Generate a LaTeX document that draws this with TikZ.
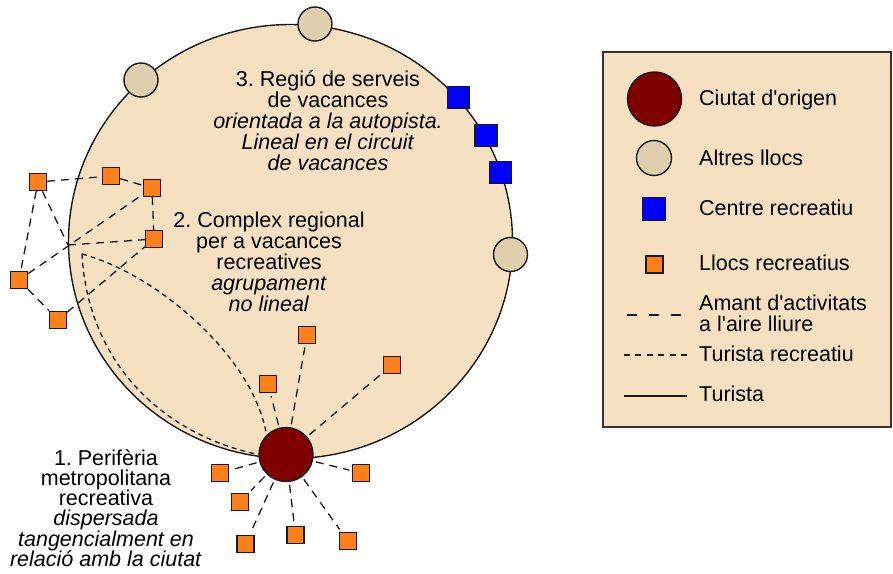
\documentclass[tikz,border=0pt]{standalone}
\usepackage{fontspec}
\setmainfont{Liberation Sans}
\frenchspacing
\definecolor{wheatfill}{HTML}{F5E1C2}
\definecolor{othertan}{HTML}{E0CFAF}
\definecolor{cityred}{HTML}{7F0000}
\definecolor{centreblue}{HTML}{0000FF}
\definecolor{llocorange}{HTML}{FF7F1A}
\definecolor{ink}{HTML}{1A1A1A}
\definecolor{frame}{HTML}{333333}
\tikzset{
  outline/.style={draw=ink, line width=1.4pt},
  city/.style={outline, circle, fill=cityred, minimum size=54pt, inner sep=0pt},
  other/.style={outline, circle, fill=othertan, minimum size=34pt, inner sep=0pt},
  centre/.style={outline, rectangle, fill=centreblue, minimum size=22pt, inner sep=0pt},
  lloc/.style={outline, rectangle, fill=llocorange, minimum size=17pt, inner sep=0pt},
  amant/.style={draw=ink, line width=1.3pt, dash pattern=on 8pt off 6pt},
  recre/.style={draw=ink, line width=1.3pt, dash pattern=on 5pt off 4pt},
  spoke/.style={amant, shorten <=3pt, shorten >=3pt},
  zonelabel/.style={font=\fontsize{21.5}{21}\selectfont, align=center, inner sep=0pt},
  legtext/.style={font=\fontsize{21.5}{21}\selectfont, anchor=base west, inner sep=0pt}
}
\begin{document}
\begin{tikzpicture}[x=1pt,y=-1pt]
\useasboundingbox (0,0) rectangle (893,573);

% recreational region round the city
\draw[outline, fill=wheatfill] (290.5,241.5) ellipse [x radius=222pt, y radius=217pt];

% other places on the rim
\node[other] (o1) at (315,24) {};
\node[other] (o2) at (141,80) {};
\node[other] (o3) at (510.5,254.5) {};

% recreation centres along the motorway
\node[centre] (c1) at (458.5,97.5) {};
\node[centre] (c2) at (486,135.5) {};
\node[centre] (c3) at (500.5,172.5) {};

% regional complex (left cluster)
\node[lloc] (r1) at (38,182) {};
\node[lloc] (r2) at (111,176) {};
\node[lloc] (r3) at (152,188) {};
\node[lloc] (r4) at (154,239) {};
\node[lloc] (r5) at (19,280) {};
\node[lloc] (r6) at (58,320) {};
\coordinate (hub) at (68,245);
\coordinate (tour) at (82,254);

% city of origin and its periphery
\node[city] (city) at (286,454.5) {};
\node[lloc] (p1) at (307,335) {};
\node[lloc] (p2) at (392,365) {};
\node[lloc] (p3) at (268,384) {};
\node[lloc] (p4) at (220,473) {};
\node[lloc] (p5) at (361,473) {};
\node[lloc] (p6) at (240,502) {};
\node[lloc] (p7) at (245.5,544) {};
\node[lloc] (p8) at (295.5,535) {};
\node[lloc] (p9) at (348,541) {};

% outdoor-activity links in the cluster
\draw[amant] (r1) -- (r2);
\draw[amant] (r2) -- (r3);
\draw[amant] (r3) -- (r4);
\draw[amant] (r1) -- (r5);
\draw[amant] (r5) -- (r6);
\draw[amant] (r1) -- (hub);
\draw[amant] (hub) -- (r4);
\draw[amant] (r5) -- (r3);
\draw[amant] (r6) -- (r4);

% recreational tourist trips from the city
\draw[recre] (tour) .. controls (88,365) and (165,435) .. (city.west);
\draw[recre] (tour) .. controls (160,275) and (255,360) .. (city.north west);

% outdoor-activity spokes round the city
\foreach \p in {p1,p2,p3,p4,p5,p6,p7,p8,p9}
  \draw[spoke] (city) -- (\p);

% zone labels
\node[zonelabel] (z3) at (328,121) {3. Regió de serveis\\de vacances\\\textit{orientada a la autopista.}\\\textit{Lineal en el circuit}\\\textit{de vacances}};
\node[zonelabel] (z2) at (269,261.5) {2. Complex regional\\per a vacances\\recreatives\\\textit{agrupament}\\\textit{no lineal}};
\node[zonelabel, font=\fontsize{21.5}{20.3}\selectfont] (z1) at (106,508) {1. Perifèria\\metropolitana\\recreativa\\\textit{dispersada}\\\textit{tangencialment en}\\\textit{relació amb la ciutat}};

% legend
\draw[draw=frame, line width=1.5pt, fill=wheatfill] (603,52) rectangle (891,427);
\node[city] (lcity) at (654.5,99) {};
\node[other, minimum size=35pt] (lother) at (654,158) {};
\node[centre, minimum size=23pt] (lcentre) at (654,209) {};
\node[lloc] (llloc) at (654.5,264.5) {};
\coordinate (la1) at (627,315);
\coordinate (la2) at (682,315);
\coordinate (lr1) at (624,355);
\coordinate (lr2) at (687,355);
\coordinate (lt1) at (624,396);
\coordinate (lt2) at (687,396);
\draw[draw=ink, line width=1.3pt, dash pattern=on 10pt off 12pt] (la1) -- (la2);
\draw[draw=ink, line width=1.3pt, dash pattern=on 6pt off 5.4pt] (lr1) -- (lr2);
\draw[draw=ink, line width=1.3pt] (lt1) -- (lt2);
\node[legtext] (t1) at (699,105) {Ciutat d\textquotesingle origen};
\node[legtext] (t2) at (699,165) {Altres llocs};
\node[legtext] (t3) at (699,215) {Centre recreatiu};
\node[legtext] (t4) at (699,270) {Llocs recreatius};
\node[legtext] (t5) at (699,310) {Amant d\textquotesingle activitats};
\node[legtext] (t6) at (699,331) {a l\textquotesingle aire lliure};
\node[legtext] (t7) at (699,361) {Turista recreatiu};
\node[legtext] (t8) at (699,401) {Turista};
\end{tikzpicture}
\end{document}
